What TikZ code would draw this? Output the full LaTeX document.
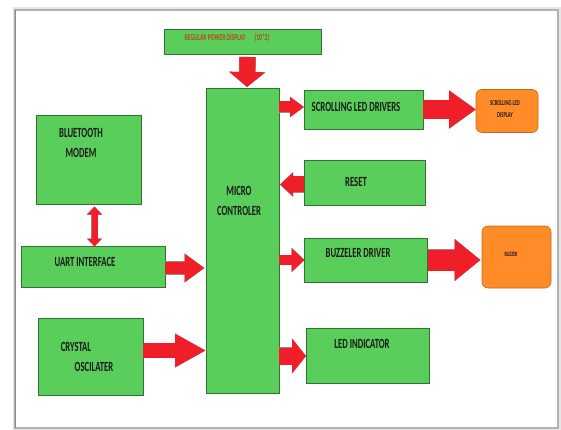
\documentclass[tikz,border=0pt]{standalone}
\usepackage{fontspec}
\newfontfamily\cond[FakeStretch=0.62]{Carlito}
\usetikzlibrary{arrows.meta,calc}
\definecolor{bgreen}{RGB}{90,206,90}
\definecolor{ared}{RGB}{240,30,40}
\definecolor{borange}{RGB}{255,140,40}
\definecolor{txt}{RGB}{25,25,25}
\definecolor{ptxt}{RGB}{190,70,20}
\newcommand\blkarrow[5]{%
  \draw[draw=black!45, line width=#1pt+0.8pt, -{Triangle[length=#3pt, width=#2pt+1pt]}] #4 -- #5;
  \draw[draw=ared, line width=#1pt, -{Triangle[length=#3pt, width=#2pt]}] #4 -- #5;}
\begin{document}
\begin{tikzpicture}[x=1pt,y=-1pt,
  gbox/.style={draw=bgreen!55!black, line width=0.6pt, fill=bgreen, inner sep=0pt, outer sep=0pt, anchor=north west},
  obox/.style={draw=borange!75!black, line width=0.6pt, fill=borange, rounded corners=6pt, inner sep=0pt, outer sep=0pt, anchor=north west},
  lbl/.style={font=\cond\bfseries\fontsize{14}{20}\selectfont, text=txt, align=center, inner sep=0pt},
  small/.style={font=\cond\bfseries\fontsize{7.5}{12}\selectfont, text=txt, align=center, inner sep=0pt}]
\useasboundingbox (0,0) rectangle (561,430);
% frame
\draw[black!10, line width=5pt] (15,10) rectangle (558,428);
\draw[black!30, line width=1.2pt] (15,10) rectangle (558,428);
\fill[white] (16,11) rectangle (557,427);
\draw[black!45, line width=1.5pt] (15.5,10) -- (15.5,428);
% boxes
\node[gbox, minimum width=157pt, minimum height=25pt] (pwr) at (164,29) {};
\node[gbox, minimum width=73pt, minimum height=305pt] (mc) at (206,88) {};
\node[gbox, minimum width=119pt, minimum height=39pt] (sld) at (304,90) {};
\node[obox, minimum width=62pt, minimum height=43pt] (sd) at (476,89.5) {};
\node[gbox, minimum width=121pt, minimum height=45pt] (rst) at (304,160) {};
\node[gbox, minimum width=123pt, minimum height=44pt] (bd) at (304.5,238) {};
\node[obox, minimum width=69pt, minimum height=62pt] (bz) at (482,226) {};
\node[gbox, minimum width=123pt, minimum height=55pt] (led) at (306,328.5) {};
\node[gbox, minimum width=105pt, minimum height=89pt] (bt) at (36,115.5) {};
\node[gbox, minimum width=144pt, minimum height=41pt] (uart) at (21,246.5) {};
\node[gbox, minimum width=105pt, minimum height=77pt] (xo) at (38,318) {};
% labels
\node[small, text=ptxt, font=\cond\bfseries\fontsize{9}{12}\selectfont] (pwrt) at (227,38) {REGULAR POWER DISPLAY\quad(10*2)};
\node[lbl] (mct) at (239,201) {MICRO\\CONTROLER};
\node[lbl] (sldt) at (356,107) {SCROLLING LED DRIVERS};
\node[small] (sdt) at (505,109) {SCROLLING LED\\DISPLAY};
\node[lbl] (rstt) at (356,182) {RESET};
\node[lbl] (bdt) at (358,253) {BUZZELER DRIVER};
\node[small, font=\cond\bfseries\fontsize{6.5}{8}\selectfont] (bzt) at (511,254) {BUZZER};
\node[lbl] (ledt) at (362,344) {LED INDICATOR};
\node[lbl] (btt) at (81,143) {BLUETOOTH\\MODEM};
\node[lbl] (uartt) at (85,262) {UART INTERFACE};
\node[lbl] (xot1) at (76,347) {CRYSTAL};
\node[lbl] (xot2) at (94,367) {OSCILATER};
% connector end points
\coordinate (p1) at ($(pwr.south)+(5,3)$);
\coordinate (p2) at ($(mc.north)+(4.5,-1)$);
\coordinate (s1) at ($(sld.west)+(0,-2.5)$);
\coordinate (r1) at ($(rst.west)+(0,2)$);
\coordinate (r2) at ($(mc.east)+(1,0)$);
\coordinate (m2) at ($(mc.west)+(-1.5,0)$);
\coordinate (u1) at ($(uart.east)+(0,1)$);
\coordinate (b2) at ($(bz.west)+(-1.5,0)$);
\coordinate (x1) at ($(xo.east)+(0,-6)$);
\coordinate (d1) at ($(bt.south)+(6,2)$);
% arrows
\blkarrow{16}{35}{15}{(p1)}{(p2)}
\blkarrow{11}{19}{14}{(mc.east |- s1)}{(s1)}
\blkarrow{19}{36}{27}{(sld.east)}{(sld.east -| sd.west)}
\blkarrow{16}{23}{13}{(r1)}{(r2 |- r1)}
\blkarrow{10}{23}{13}{(mc.east |- bd.west)}{(bd.west)}
\blkarrow{21}{40}{26}{(bd.east)}{(bd.east -| b2)}
\blkarrow{17}{34}{14}{(mc.east |- led.west)}{(led.west)}
\blkarrow{12.5}{27}{20}{(u1)}{(u1 -| m2)}
\blkarrow{15}{31}{31}{(x1)}{(x1 -| mc.west)}
\draw[draw=black!45, line width=6.8pt, {Triangle[length=8pt, width=15pt]}-{Triangle[length=8pt, width=15pt]}] (d1) -- (d1 |- uart.north);
\draw[draw=ared, line width=6pt, {Triangle[length=8pt, width=14pt]}-{Triangle[length=8pt, width=14pt]}] (d1) -- (d1 |- uart.north);
\end{tikzpicture}
\end{document}
